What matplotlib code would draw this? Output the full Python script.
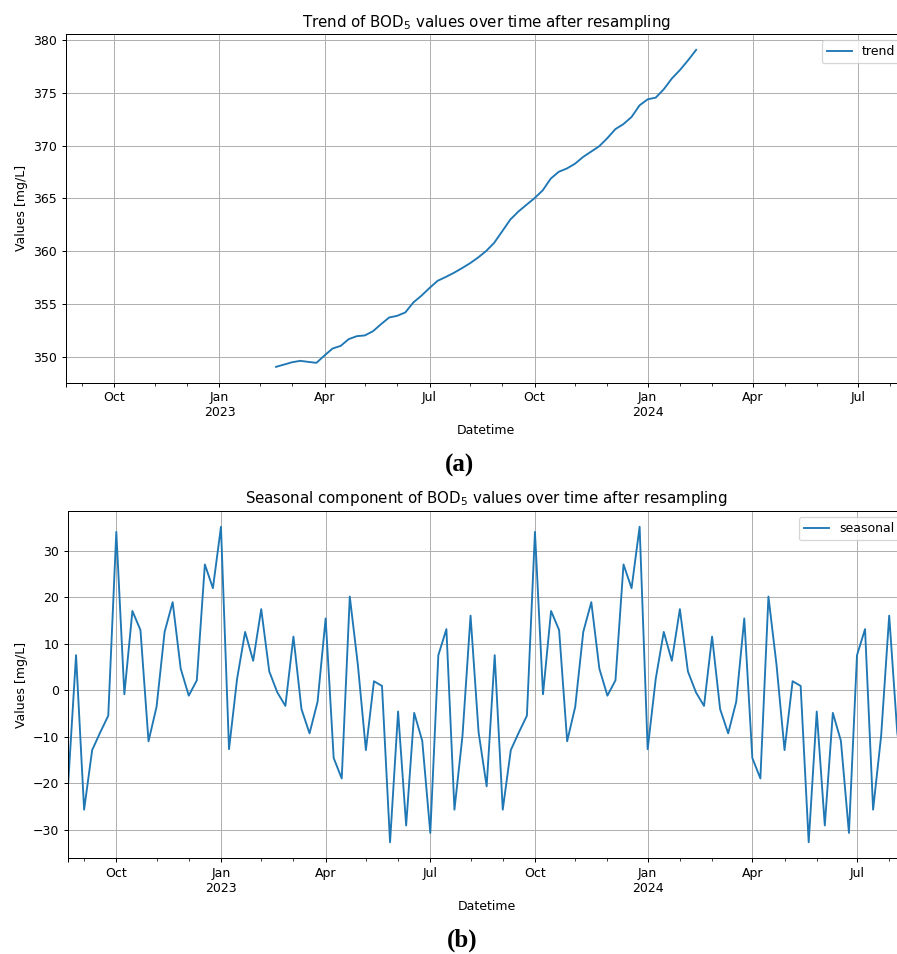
import matplotlib
matplotlib.use('Agg')
import matplotlib.pyplot as plt
import pandas as pd
import numpy as np

# ---------------- data ----------------
series_start = '2022-08-21'          # weekly (W-SUN) resampled index
n_weeks = 105

trend_start = '2023-02-19'
trend_values = [349.02, 349.24, 349.46, 349.59, 349.49, 349.40, 350.10, 350.76, 351.01, 351.65,
                351.93, 352.00, 352.40, 353.07, 353.70, 353.86, 354.18, 355.13, 355.77, 356.50,
                357.18, 357.54, 357.93, 358.37, 358.84, 359.38, 360.00, 360.78, 361.88, 362.99,
                363.75, 364.39, 365.02, 365.75, 366.87, 367.52, 367.83, 368.28, 368.92, 369.43,
                369.94, 370.70, 371.56, 372.04, 372.71, 373.82, 374.39, 374.55, 375.35, 376.37,
                377.17, 378.09, 379.08]

seasonal_values = [-20.7, 7.5, -25.7, -12.9, -9.1, -5.5, 34.0, -0.9, 17.0, 12.9,
                   -11.0, -3.6, 12.5, 18.9, 4.6, -1.2, 2.1, 27.0, 21.9, 35.1,
                   -12.7, 2.4, 12.5, 6.3, 17.4, 4.0, -0.5, -3.4, 11.5, -4.1,
                   -9.3, -2.5, 15.4, -14.6, -19.0, 20.1, 5.5, -12.9, 1.9, 0.9,
                   -32.7, -4.6, -29.1, -4.9, -10.9, -30.7, 7.5, 13.1, -25.7, -9.8,
                   16.0, -9.1,
                   -20.7, 7.5, -25.7, -12.9, -9.1, -5.5, 34.0, -0.9, 17.0, 12.9,
                   -11.0, -3.6, 12.5, 18.9, 4.6, -1.2, 2.1, 27.0, 21.9, 35.1,
                   -12.7, 2.4, 12.5, 6.3, 17.4, 4.0, -0.5, -3.4, 11.5, -4.1,
                   -9.3, -2.5, 15.4, -14.6, -19.0, 20.1, 5.5, -12.9, 1.9, 0.9,
                   -32.7, -4.6, -29.1, -4.9, -10.9, -30.7, 7.5, 13.1, -25.7, -9.8,
                   16.0, -9.1,
                   -20.7]

title_a = 'Trend of BOD$_5$ values over time after resampling'
title_b = 'Seasonal component of BOD$_5$ values over time after resampling'
ylabel = 'Values [mg/L]'
xlabel = 'Datetime'

# ---------------- frames ----------------
idx = pd.date_range(series_start, periods=n_weeks, freq='W', name=xlabel)
trend_idx = pd.date_range(trend_start, periods=len(trend_values), freq='W')
trend = pd.Series(trend_values, index=trend_idx).reindex(idx)
df_trend = pd.DataFrame({'trend': trend.values}, index=idx)
df_seas = pd.DataFrame({'seasonal': seasonal_values}, index=idx)

# ---------------- figure ----------------
DPI = 90
fig = plt.figure(figsize=(897/DPI, 954/DPI), dpi=DPI)

ax1 = fig.add_axes([66/897, 1 - 382.7/954, 840.2/897, 348.7/954])
df_trend.plot(ax=ax1)
ax1.set_title(title_a)
ax1.set_ylabel(ylabel)
ax1.set_xlabel(xlabel)
ax1.grid(True)
ax1.legend(loc='upper right')

ax2 = fig.add_axes([68.0/897, 1 - 858/954, 837.3/897, 347/954])
df_seas.plot(ax=ax2)
ax2.set_title(title_b)
ax2.set_ylabel(ylabel)
ax2.set_xlabel(xlabel)
ax2.grid(True)
ax2.legend(loc='upper right')

fig.text(460/897, 1 - 465/954, '(a)', ha='center', va='center',
         fontsize=20, fontweight='bold', family=['Liberation Serif', 'DejaVu Serif'])
fig.text(462/897, 1 - 940/954, '(b)', ha='center', va='center',
         fontsize=20, fontweight='bold', family=['Liberation Serif', 'DejaVu Serif'])

fig.savefig('out.png', dpi=DPI)
